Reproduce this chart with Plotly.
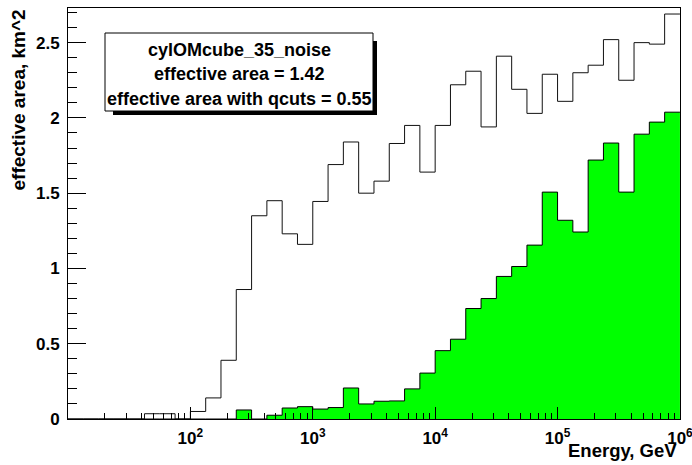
import plotly.graph_objects as go

# Binning: 40 logarithmic bins from 10 GeV to 1e6 GeV (8 per decade)
n_bins = 40
log_lo, log_hi = 1.0, 6.0
bin_edges = [10 ** (log_lo + k * (log_hi - log_lo) / n_bins) for k in range(n_bins + 1)]

# Effective area per bin, km^2 (all events)
all_area = [0, 0, 0, 0, 0, 0.035, 0.035, 0, 0.05, 0.14,
            0.39, 0.86, 1.35, 1.45, 1.23, 1.16, 1.445, 1.69, 1.84, 1.50,
            1.58, 1.83, 1.95, 1.64, 1.95, 2.22, 2.31, 1.94, 2.41, 2.19,
            2.03, 2.29, 2.11, 2.30, 2.35, 2.52, 2.25, 2.50, 2.49, 2.69]

# Effective area per bin, km^2 (after quality cuts)
qcut_area = [0, 0, 0, 0, 0, 0, 0, 0, 0, 0,
             0, 0.06, 0, 0.025, 0.073, 0.082, 0.066, 0.076, 0.206, 0.10,
             0.118, 0.12, 0.20, 0.305, 0.454, 0.53, 0.734, 0.80, 0.947, 1.013,
             1.155, 1.507, 1.32, 1.242, 1.72, 1.833, 1.507, 1.892, 1.972, 2.038]

legend_lines = ["cylOMcube_35_noise",
                "effective area = 1.42",
                "effective area with qcuts = 0.55"]

x_major = [1e2, 1e3, 1e4, 1e5, 1e6]
x_major_text = ["10<sup>2</sup>", "10<sup>3</sup>", "10<sup>4</sup>",
                "10<sup>5</sup>", "10<sup>6</sup>"]
x_minor = [m * 10 ** d for d in range(1, 6) for m in range(2, 10)]

y_max = 2.73

# Canvas / frame geometry (pixels)
W, H = 692, 465
FL, FR, FT, FB = 68, 680, 8, 419


def px(x):
    return (x - FL) / (FR - FL)


def py(y):
    return (FB - y) / (FB - FT)


def step(values):
    return bin_edges, list(values) + [values[-1]]


FONT = "Liberation Sans, Arial, Helvetica, sans-serif"

fig = go.Figure()

xs, ys = step(qcut_area)
fig.add_trace(go.Scatter(x=xs, y=ys, mode="lines", line_shape="hv",
                         line=dict(color="black", width=1),
                         fill="tozeroy", fillcolor="#00ff00",
                         hoverinfo="skip", showlegend=False))

xs, ys = step(all_area)
fig.add_trace(go.Scatter(x=xs, y=ys, mode="lines", line_shape="hv",
                         line=dict(color="#111111", width=1),
                         hoverinfo="skip", showlegend=False))

# helper trace carrying the minor tick axis
fig.add_trace(go.Scatter(x=[bin_edges[0]], y=[0], xaxis="x2", mode="markers",
                         marker=dict(opacity=0), hoverinfo="skip", showlegend=False))

# a hair past 1e6 so the last decade label is kept
xr = [log_lo, log_hi + 0.0005]
fig.update_layout(
    width=W, height=H,
    margin=dict(l=FL, r=W - FR, t=FT, b=H - FB, autoexpand=False),
    paper_bgcolor="white", plot_bgcolor="white",
    font=dict(family=FONT, color="black"),
    xaxis=dict(type="log", range=xr, showgrid=False, zeroline=False,
               showline=True, linecolor="black", linewidth=1, mirror=True,
               tickmode="array", tickvals=x_major, ticktext=x_major_text,
               ticks="inside", ticklen=12, tickcolor="black", tickwidth=1,
               ticklabeloverflow="allow", automargin=False,
               tickfont=dict(size=17, weight="bold"), ticklabelstandoff=4),
    xaxis2=dict(type="log", range=xr, overlaying="x", anchor="y", side="bottom",
                showgrid=False, zeroline=False, showline=False,
                tickmode="array", tickvals=x_minor, showticklabels=False,
                ticks="inside", ticklen=6, tickcolor="black", tickwidth=1),
    yaxis=dict(range=[0, y_max], showgrid=False, zeroline=False,
               showline=True, linecolor="black", linewidth=1, mirror=True,
               tick0=0, dtick=0.5, ticks="inside", ticklen=18,
               tickcolor="black", tickwidth=1, automargin=False,
               minor=dict(ticks="inside", ticklen=9, dtick=0.1, tick0=0,
                          tickcolor="black", tickwidth=1, showgrid=False),
               tickfont=dict(size=17, weight="bold"), ticklabelstandoff=4),
)

# statistics box with drop shadow
box = (105, 33, 373, 111)
shadow = 4
fig.add_shape(type="rect", xref="paper", yref="paper", layer="above",
              x0=px(box[0] + 8), x1=px(box[2] + shadow),
              y0=py(box[3] + shadow), y1=py(box[3]),
              fillcolor="black", line=dict(width=0))
fig.add_shape(type="rect", xref="paper", yref="paper", layer="above",
              x0=px(box[2]), x1=px(box[2] + shadow),
              y0=py(box[3] + shadow), y1=py(box[1] + 8),
              fillcolor="black", line=dict(width=0))
fig.add_shape(type="rect", xref="paper", yref="paper", layer="above",
              x0=px(box[0]), x1=px(box[2]), y0=py(box[3]), y1=py(box[1]),
              fillcolor="white", line=dict(color="black", width=1))

for text, yc in zip(legend_lines, [50, 74, 99]):
    fig.add_annotation(text=text, xref="paper", yref="paper",
                       x=px((box[0] + box[2]) / 2), y=py(yc),
                       xanchor="center", yanchor="middle", showarrow=False,
                       font=dict(size=18, weight="bold"))

fig.add_annotation(text="effective area, km^2", xref="paper", yref="paper",
                   x=px(18), y=py(FT), xanchor="center", yanchor="top",
                   textangle=-90, showarrow=False,
                   font=dict(size=19, weight="bold"))

fig.add_annotation(text="Energy, GeV", xref="paper", yref="paper",
                   x=px(679), y=py(451), xanchor="right", yanchor="middle",
                   showarrow=False, font=dict(size=18.5, weight="bold"))

fig.write_html("out.html")
